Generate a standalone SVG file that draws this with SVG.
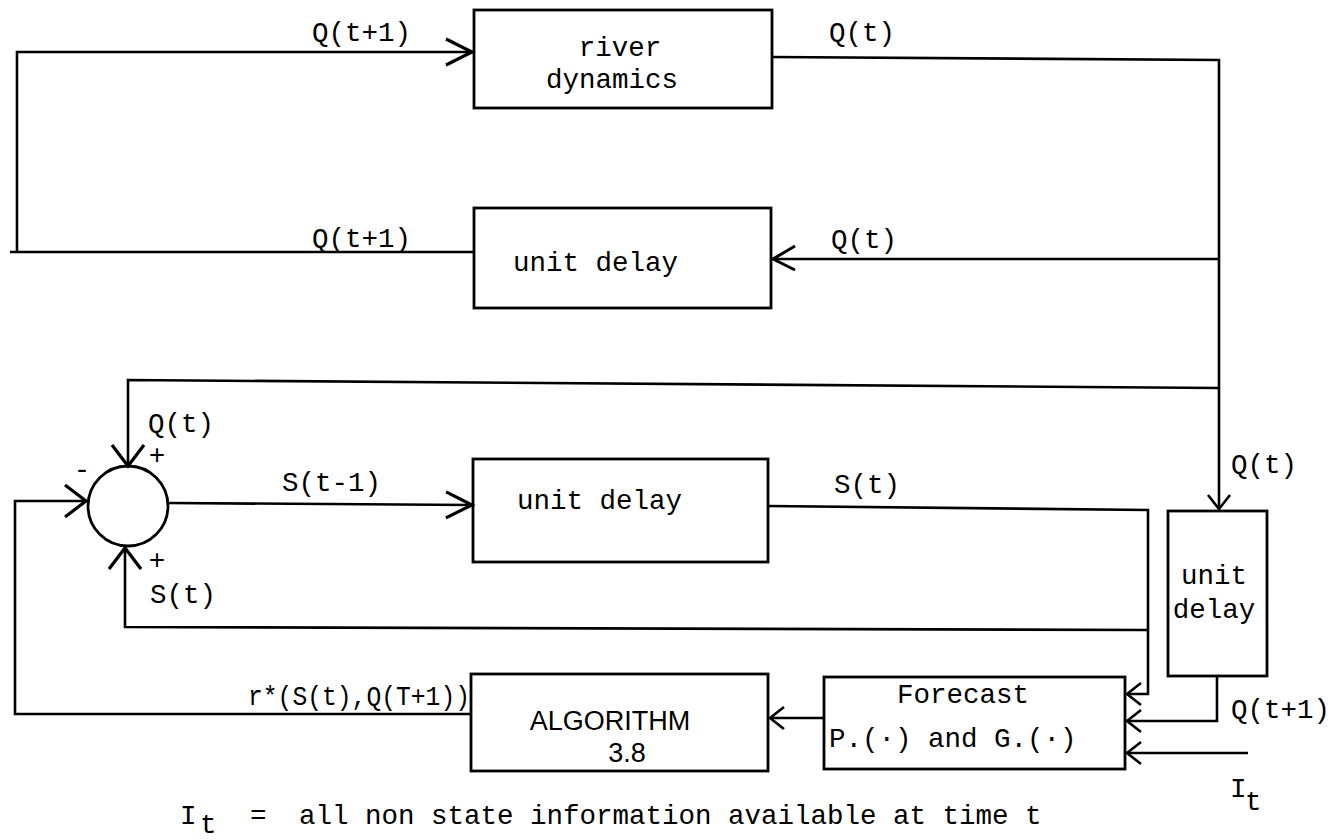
<svg xmlns="http://www.w3.org/2000/svg" width="1332" height="840" viewBox="0 0 1332 840">
<style>
.box{fill:none;stroke:#000;stroke-width:2.8}
.ln{fill:none;stroke:#000;stroke-width:2.6;stroke-linejoin:miter}
.t{font-family:"Liberation Mono","DejaVu Sans Mono",monospace;font-size:27.5px;fill:#000}
.s{font-family:"Liberation Sans","DejaVu Sans",sans-serif;font-size:27px;fill:#000}
.c{text-anchor:middle}
</style>
<defs>
<marker id="aL" markerUnits="userSpaceOnUse" markerWidth="40" markerHeight="40" viewBox="-30 -20 34 40" refX="0" refY="0" orient="auto">
<path d="M-26,-13 L0,0 L-26,13" fill="none" stroke="#000" stroke-width="3.2"/>
</marker>
<marker id="aC" markerUnits="userSpaceOnUse" markerWidth="40" markerHeight="40" viewBox="-30 -20 34 40" refX="0" refY="0" orient="auto">
<path d="M-21,-16 L0,0 L-21,16" fill="none" stroke="#000" stroke-width="3.2"/>
</marker>
<marker id="aM" markerUnits="userSpaceOnUse" markerWidth="40" markerHeight="40" viewBox="-30 -20 34 40" refX="0" refY="0" orient="auto">
<path d="M-22,-11 L0,0 L-22,13" fill="none" stroke="#000" stroke-width="3"/>
</marker>
<marker id="aS" markerUnits="userSpaceOnUse" markerWidth="30" markerHeight="30" viewBox="-20 -15 24 30" refX="0" refY="0" orient="auto">
<path d="M-14,-11 L0,0 L-14,11" fill="none" stroke="#000" stroke-width="2.6"/>
</marker>
</defs>

<g id="connectors">
<!-- unit delay 1 output back to river dynamics input -->
<polyline class="ln" points="474,252 10,252"/>
<polyline class="ln" points="17,252 17,52 472,52" marker-end="url(#aL)"/>
<!-- river dynamics output Q(t) -->
<polyline class="ln" points="772,57 1219,60 1219,509" marker-end="url(#aS)"/>
<!-- Q(t) into unit delay 1 -->
<polyline class="ln" points="1219,259 773,259" marker-end="url(#aM)"/>
<!-- Q(t) to summing junction -->
<polyline class="ln" points="1219,388 128,380 128,466" marker-end="url(#aC)"/>
<!-- r* feedback from algorithm to summing junction -->
<polyline class="ln" points="471,714 15,714 15,501 86,501" marker-end="url(#aC)"/>
<!-- summing junction output S(t-1) -->
<polyline class="ln" points="168,503 472,505" marker-end="url(#aL)"/>
<!-- S(t) from unit delay 2 to forecast -->
<polyline class="ln" points="768,506 1148,510 1148,694 1127,694" marker-end="url(#aS)"/>
<!-- S(t) back to summing junction -->
<polyline class="ln" points="1148,630 125,627 125,548" marker-end="url(#aC)"/>
<!-- Q(t+1) from unit delay 3 to forecast -->
<polyline class="ln" points="1217,676 1217,721 1127,721" marker-end="url(#aS)"/>
<!-- I_t into forecast -->
<polyline class="ln" points="1248,753 1127,753" marker-end="url(#aS)"/>
<!-- forecast to algorithm -->
<polyline class="ln" points="824,718 770,718" marker-end="url(#aS)"/>
</g>

<g id="river-dynamics">
<rect class="box" x="474" y="10" width="298" height="98"/>
<text class="t c" x="620" y="56">river</text>
<text class="t c" x="612" y="88">dynamics</text>
</g>

<g id="unit-delay-1">
<rect class="box" x="474" y="208" width="297" height="100"/>
<text class="t" x="513" y="271">unit delay</text>
</g>

<g id="summing-junction">
<circle class="box" cx="128" cy="506" r="40"/>
</g>

<g id="unit-delay-2">
<rect class="box" x="473" y="459" width="295" height="103"/>
<text class="t" x="517" y="509">unit delay</text>
</g>

<g id="unit-delay-3">
<rect class="box" x="1168" y="511" width="99" height="165"/>
<text class="t c" x="1214" y="584">unit</text>
<text class="t c" x="1214" y="618">delay</text>
</g>

<g id="algorithm">
<rect class="box" x="471" y="674" width="297" height="97"/>
<text class="s c" x="610" y="730">ALGORITHM</text>
<text class="s c" x="627" y="762">3.8</text>
</g>

<g id="forecast">
<rect class="box" x="824" y="677" width="301" height="92"/>
<text class="t c" x="963" y="703">Forecast</text>
<text class="t" x="829" y="747">P.(·) and G.(·)</text>
</g>

<g id="labels">
<text class="t" x="312" y="41">Q(t+1)</text>
<text class="t" x="829" y="41">Q(t)</text>
<text class="t" x="312" y="247">Q(t+1)</text>
<text class="t" x="831" y="248">Q(t)</text>
<text class="t" x="148" y="432">Q(t)</text>
<text class="t c" x="157" y="464">+</text>
<text class="t c" x="82" y="478">-</text>
<text class="t" x="282" y="491">S(t-1)</text>
<text class="t" x="834" y="493">S(t)</text>
<text class="t c" x="157" y="569">+</text>
<text class="t" x="150" y="603">S(t)</text>
<text class="t" x="1231" y="473">Q(t)</text>
<text class="t" x="248" y="705" textLength="222" lengthAdjust="spacingAndGlyphs">r*(S(t),Q(T+1))</text>
<text class="t" x="1231" y="718">Q(t+1)</text>
<text class="t" x="1230" y="797">I</text>
<text class="t" x="1245" y="810">t</text>
</g>

<g id="caption">
<text class="t" x="180" y="824">I</text>
<text class="t" x="200" y="833">t</text>
<text class="t" x="250" y="824">=</text>
<text class="t" x="299" y="824">all non state information available at time t</text>
</g>
</svg>
